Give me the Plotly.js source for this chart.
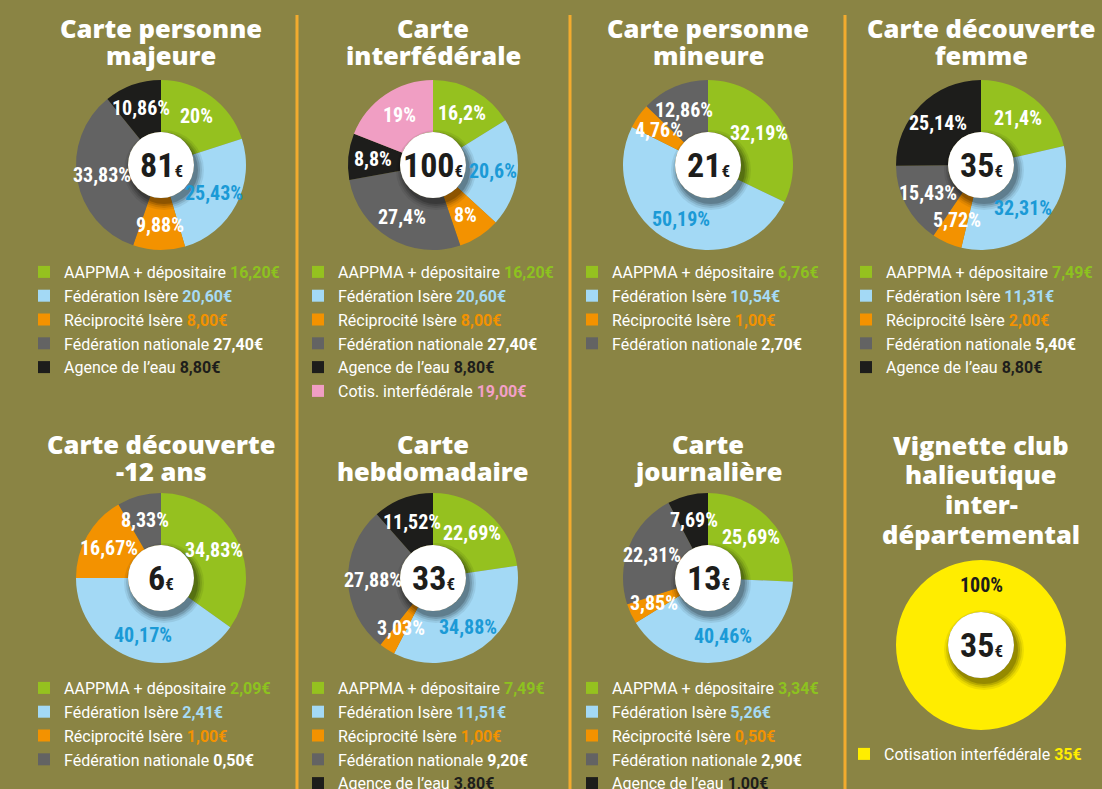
<!DOCTYPE html>
<html>
<head>
<meta charset="utf-8">
<script src="https://cdn.plot.ly/plotly-3.0.1.min.js"></script>
<style>
html,body{margin:0;padding:0;background:#8a8444;overflow:hidden;}
#chart{width:1102px;height:789px;}
</style>
</head>
<body>
<div id="chart"></div>
<script>
// ---------- DATA ----------
const categories = ["AAPPMA + dépositaire", "Fédération Isère", "Réciprocité Isère",
  "Fédération nationale", "Agence de l’eau", "Cotis. interfédérale", "Cotisation interfédérale"];

const majeureValues = [16.20, 20.60, 8.00, 27.40, 8.80];
const majeurePct = ["20%", "25,43%", "9,88%", "33,83%", "10,86%"];

const interfederaleValues = [16.20, 20.60, 8.00, 27.40, 8.80, 19.00];
const interfederalePct = ["16,2%", "20,6%", "8%", "27,4%", "8,8%", "19%"];

const mineureValues = [6.76, 10.54, 1.00, 2.70];
const mineurePct = ["32,19%", "50,19%", "4,76%", "12,86%"];

const femmeValues = [7.49, 11.31, 2.00, 5.40, 8.80];
const femmePct = ["21,4%", "32,31%", "5,72%", "15,43%", "25,14%"];

const moins12Values = [2.09, 2.41, 1.00, 0.50];
const moins12Pct = ["34,83%", "40,17%", "16,67%", "8,33%"];

const hebdoValues = [7.49, 11.51, 1.00, 9.20, 3.80];
const hebdoPct = ["22,69%", "34,88%", "3,03%", "27,88%", "11,52%"];

const journaliereValues = [3.34, 5.26, 0.50, 2.90, 1.00];
const journalierePct = ["25,69%", "40,46%", "3,85%", "22,31%", "7,69%"];

const vignetteValues = [35];
const vignettePct = ["100%"];

const chartTitles = [
  ["Carte personne", "majeure"],
  ["Carte", "interfédérale"],
  ["Carte personne", "mineure"],
  ["Carte découverte", "femme"],
  ["Carte découverte", "-12 ans"],
  ["Carte", "hebdomadaire"],
  ["Carte", "journalière"],
  ["Vignette club", "halieutique", "inter-", "départemental"]
];

// ---------- STYLE ----------
const W = 1102, H = 789;
const BG = "#8a8444";
const sliceColors = ["#95c11f", "#a3d9f5", "#f39200", "#636363", "#1d1d1b", "#f09ec3", "#ffed00"];
const pctColors   = ["#ffffff", "#1b9ad6", "#ffffff", "#ffffff", "#ffffff", "#ffffff", "#1d1d1b"];
const valColors   = ["#8dc21f", "#a6dbf5", "#f39200", "#ffffff", "#1d1d1b", "#f3a0c8", "#ffed00"];
const NARROW = "Roboto Condensed, Liberation Sans Narrow, DejaVu Sans Condensed, sans-serif";

const R = 85, HOLE_R = 33, LABEL_R = 60;
const colX = [161, 433, 708, 981];

const charts = [
  {values: majeureValues, pct: majeurePct, cats: [0,1,2,3,4], col: 0, cy: 165, ty: [28, 55], ly: 255, dec: 2, rot: 0},
  {values: interfederaleValues, pct: interfederalePct, cats: [0,1,2,3,4,5], col: 1, cy: 165, ty: [28, 55], ly: 255, dec: 2, rot: 0},
  {values: mineureValues, pct: mineurePct, cats: [0,1,2,3], col: 2, cy: 165, ty: [28, 55], ly: 255, dec: 2, rot: 0},
  {values: femmeValues, pct: femmePct, cats: [0,1,2,3,4], col: 3, cy: 165, ty: [28, 55], ly: 255, dec: 2, rot: 0},
  {values: moins12Values, pct: moins12Pct, cats: [0,1,2,3], col: 0, cy: 578, ty: [444, 471], ly: 671, dec: 2, rot: 0},
  {values: hebdoValues, pct: hebdoPct, cats: [0,1,2,3,4], col: 1, cy: 578, ty: [444, 471], ly: 671, dec: 2, rot: 0},
  {values: journaliereValues, pct: journalierePct, cats: [0,1,2,3,4], col: 2, cy: 578, ty: [444, 471], ly: 671, dec: 2, rot: 0},
  {values: vignetteValues, pct: vignettePct, cats: [6], col: 3, cy: 645, ty: [445, 474, 504, 534], ly: 737, dec: 0, rot: 180}
];

const px2x = p => p / W;
const px2y = p => 1 - p / H;
const fmt = (v, d) => v.toFixed(d).replace(".", ",") + "€";

const traces = [], annotations = [], shapes = [];
const layout = {
  width: W, height: H,
  margin: {l: 0, r: 0, t: 0, b: 0, autoexpand: false},
  paper_bgcolor: BG, plot_bgcolor: BG,
  showlegend: true,
  font: {family: "Roboto, sans-serif", color: "#ffffff"}
};

// dividers
[297, 570, 845].forEach(x => {
  shapes.push({type: "line", xref: "paper", yref: "paper",
    x0: px2x(x), x1: px2x(x), y0: px2y(789), y1: px2y(15),
    line: {color: "#f3ab2e", width: 3}});
});

charts.forEach((c, i) => {
  const cx = colX[c.col], cy = c.cy;
  const legendId = i === 0 ? "legend" : "legend" + (i + 1);
  // zero-width spaces (inside the value) keep each chart's legend entries distinct
  const labels = c.cats.map((k, j) =>
    categories[k] + " <b><span style='color:" + valColors[k] + "'>" + fmt(c.values[j], c.dec) +
    "\u200B".repeat(i) + "</span></b>");
  traces.push({
    type: "pie",
    values: c.values,
    labels: labels,
    textinfo: "none",
    sort: false,
    direction: "clockwise",
    rotation: c.rot,
    hole: HOLE_R / R,
    marker: {colors: c.cats.map(k => sliceColors[k]), line: {width: 0}},
    domain: {x: [px2x(cx - R), px2x(cx + R)], y: [px2y(cy + R), px2y(cy - R)]},
    legend: legendId,
    hoverinfo: "none"
  });
  layout[legendId] = {
    x: px2x(24 + 274 * c.col - (i === 7 ? 2 : 0)), y: px2y(c.ly),
    xanchor: "left", yanchor: "top",
    bgcolor: "rgba(0,0,0,0)", borderwidth: 0,
    font: {family: "Roboto, sans-serif", size: 16, color: "#ffffff"},
    traceorder: "normal", itemclick: false, itemdoubleclick: false
  };
  // percentage labels at each slice's mid-angle (derived from the values)
  const total = c.values.reduce((a, b) => a + b, 0);
  let cum = 0;
  c.values.forEach((v, j) => {
    const ang = (c.rot + 360 * (cum + v / 2) / total) * Math.PI / 180;
    cum += v;
    const lx = cx + LABEL_R * Math.sin(ang), lyy = cy - LABEL_R * Math.cos(ang);
    annotations.push({xref: "paper", yref: "paper", x: px2x(lx), y: px2y(lyy),
      xanchor: "center", yanchor: "middle", showarrow: false, text: "<b>" + c.pct[j] + "</b>",
      font: {family: NARROW, size: 20, stretch: "condensed", color: pctColors[c.cats[j]]}});
  });
  // titles
  chartTitles[i].forEach((line, j) => {
    annotations.push({xref: "paper", yref: "paper", x: px2x(cx), y: px2y(c.ty[j]),
      xanchor: "center", yanchor: "middle", showarrow: false, text: line,
      font: {family: "Open Sans, sans-serif", size: 25.5, weight: 800, color: "#ffffff"}});
  });
  // centre circle shadow + white disc
  [[7, 0.07], [5, 0.10], [3, 0.14], [1, 0.18]].forEach(([g, a]) => {
    shapes.push({type: "circle", xref: "paper", yref: "paper", layer: "above",
      x0: px2x(cx - HOLE_R - g + 3), x1: px2x(cx + HOLE_R + g + 3),
      y0: px2y(cy + HOLE_R + g + 5), y1: px2y(cy - HOLE_R - g + 5),
      fillcolor: "rgba(0,0,0," + a + ")", line: {width: 0}});
  });
  shapes.push({type: "circle", xref: "paper", yref: "paper", layer: "above",
    x0: px2x(cx - HOLE_R), x1: px2x(cx + HOLE_R),
    y0: px2y(cy + HOLE_R), y1: px2y(cy - HOLE_R),
    fillcolor: "#ffffff", line: {width: 0}});
  // total in the centre
  annotations.push({xref: "paper", yref: "paper", x: px2x(cx), y: px2y(cy),
    xanchor: "center", yanchor: "middle", showarrow: false,
    text: "<b>" + Math.round(total) + "</b><b><span style='font-size:17px'>€</span></b>",
    font: {family: NARROW, size: 34, stretch: "condensed", color: "#1d1d1b"}});
});

layout.annotations = annotations;
layout.shapes = shapes;

Plotly.newPlot("chart", traces, layout, {displayModeBar: false, staticPlot: true});
</script>
</body>
</html>
